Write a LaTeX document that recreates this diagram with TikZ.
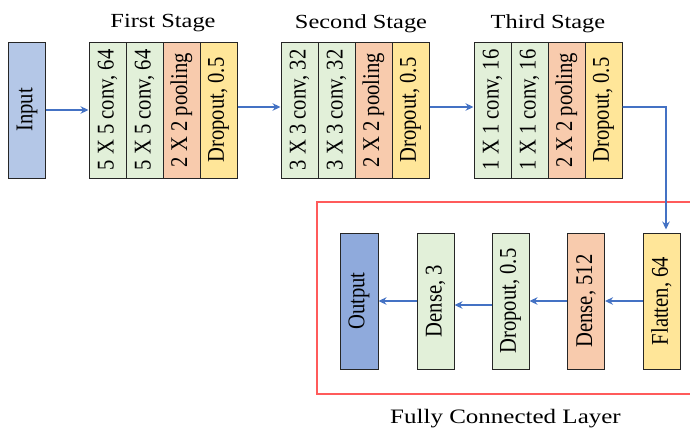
\documentclass[tikz,border=0pt]{standalone}
\usepackage{fontspec}
\setmainfont{Liberation Serif}
\newfontfamily\vtxt[FakeStretch=0.86]{Liberation Serif}
\newfontfamily\htxt[FakeStretch=1.22]{Liberation Serif}
\usetikzlibrary{arrows.meta}
\definecolor{inblue}{HTML}{B4C7E7}
\definecolor{outblue}{HTML}{8FAADC}
\definecolor{convgreen}{HTML}{E2F0D9}
\definecolor{poolorange}{HTML}{F8CBAD}
\definecolor{dropyellow}{HTML}{FFE699}
\definecolor{arrowblue}{HTML}{4472C4}
\definecolor{fcred}{HTML}{FF5B5B}
\tikzset{
  layer/.style={draw=black!85, line width=1bp, rotate=90, inner sep=0pt,
    minimum width=136bp, minimum height=37bp,
    font=\vtxt\fontsize{24bp}{26bp}\selectfont},
  conv/.style={layer, fill=convgreen},
  pool/.style={layer, fill=poolorange},
  drop/.style={layer, fill=dropyellow},
  title/.style={anchor=base, inner sep=0pt, font=\htxt\fontsize{20bp}{22bp}\selectfont},
  flow/.style={draw=arrowblue, line width=2.2bp, -{Stealth[length=8bp, width=7.5bp]}}
}
\begin{document}
\begin{tikzpicture}[x=1bp, y=-1bp]
\useasboundingbox (0,0) rectangle (690,428);

% input
\node[layer, fill=inblue, minimum height=36bp] (in) at (27,110) {Input};

% first stage
\node[conv] (a1) at (107.5,110) {5 X 5 conv, 64};
\node[conv] (a2) at (144.5,110) {5 X 5 conv, 64};
\node[pool] (a3) at (181.5,110) {2 X 2 pooling};
\node[drop] (a4) at (218.5,110) {Dropout, 0.5};
\node[title] (t1) at (163,27) {First Stage};

% second stage
\node[conv] (b1) at (299.5,110) {3 X 3 conv, 32};
\node[conv] (b2) at (336.5,110) {3 X 3 conv, 32};
\node[pool] (b3) at (373.5,110) {2 X 2 pooling};
\node[drop] (b4) at (410.5,110) {Dropout, 0.5};
\node[title] (t2) at (361,28) {Second Stage};

% third stage
\node[conv] (c1) at (492.5,110) {1 X 1 conv, 16};
\node[conv] (c2) at (529.5,110) {1 X 1 conv, 16};
\node[pool] (c3) at (566.5,110) {2 X 2 pooling};
\node[drop] (c4) at (603.5,110) {Dropout, 0.5};
\node[title] (t3) at (548,28) {Third Stage};

% fully connected block
\draw[fcred, line width=1.3bp] (692,202) -| (317,394) -- (692,394);
\node[layer, fill=dropyellow] (f1) at (661.5,301) {Flatten, 64};
\node[layer, fill=poolorange] (f2) at (586,301) {Dense, 512};
\node[layer, fill=convgreen] (f3) at (510.5,301) {Dropout, 0.5};
\node[layer, fill=convgreen] (f4) at (435.5,301) {Dense, 3};
\node[layer, fill=outblue, minimum height=38bp] (out) at (359,301) {Output};
\node[title, font=\htxt\fontsize{20.5bp}{22bp}\selectfont] (t4) at (505.5,423) {Fully Connected Layer};

% connectors
\draw[flow] (in.south) -- (a1.north);
\draw[flow] ([yshift=3bp]a4.south) -- ([yshift=3bp]b1.north);
\draw[flow] ([yshift=3bp]b4.south) -- ([yshift=3bp]c1.north);
\coordinate (turn) at (666,107);
\draw[flow, line width=1.6bp, shorten >=3bp] ([yshift=3bp]c4.south) -- (turn) -- (turn |- f1.east);
\draw[flow] (f1.north) -- (f2.south);
\draw[flow] (f2.north) -- (f3.south);
\draw[flow] ([yshift=-4bp]f3.north) -- ([yshift=-4bp]f4.south);
\draw[flow] (f4.north) -- (out.south);
\end{tikzpicture}
\end{document}
